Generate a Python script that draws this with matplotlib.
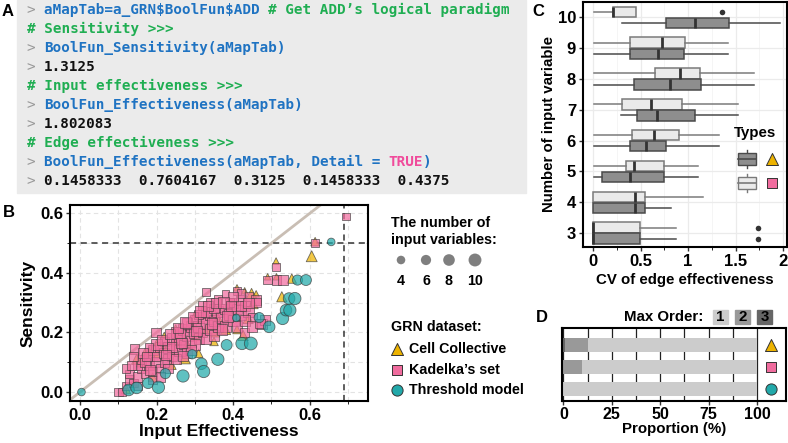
import numpy as np
import matplotlib.pyplot as plt

W, H = 788, 443
fig = plt.figure(figsize=(W / 100, H / 100), dpi=100)

# ---------------- data ----------------
# panel A: console lines (segments of text, colour key)
code_lines = [
    [("> ", "p"), ("aMapTab=a_GRN$BoolFun$ADD ", "b"), ("# Get ADD\u2019s logical paradigm", "g")],
    [("# Sensitivity >>>", "g")],
    [("> ", "p"), ("BoolFun_Sensitivity(aMapTab)", "b")],
    [("> ", "p"), ("1.3125", "k")],
    [("# Input effectiveness >>>", "g")],
    [("> ", "p"), ("BoolFun_Effectiveness(aMapTab)", "b")],
    [("> ", "p"), ("1.802083", "k")],
    [("# Edge effectiveness >>>", "g")],
    [("> ", "p"), ("BoolFun_Effectiveness(aMapTab, Detail = ", "b"), ("TRUE", "t"), (")", "b")],
    [("> ", "p"), ("0.1458333  0.7604167  0.3125  0.1458333  0.4375", "k")],
]

# panel B: input effectiveness vs sensitivity, marker size = number of inputs
cc_x = [0.120, 0.140, 0.148, 0.160, 0.170, 0.180, 0.190, 0.200, 0.220, 0.240, 0.250, 0.274,
        0.280, 0.300, 0.310, 0.330, 0.352, 0.350, 0.360, 0.380, 0.390, 0.410, 0.410, 0.426,
        0.430, 0.439, 0.448, 0.452, 0.460, 0.490, 0.512, 0.513, 0.527, 0.553, 0.605, 0.614,
        0.250, 0.300, 0.350, 0.220, 0.200]
cc_y = [0.010, 0.030, 0.110, 0.100, 0.130, 0.135, 0.050, 0.130, 0.150, 0.090, 0.170, 0.113,
        0.160, 0.190, 0.130, 0.210, 0.202, 0.170, 0.250, 0.210, 0.280, 0.210, 0.350, 0.190,
        0.340, 0.247, 0.331, 0.297, 0.330, 0.387, 0.440, 0.387, 0.320, 0.381, 0.456, 0.505,
        0.215, 0.260, 0.290, 0.190, 0.165]
cc_n = [5, 4, 6, 5, 6, 6, 4, 5, 6, 4, 5, 7,
        5, 6, 4, 5, 6, 4, 5, 6, 5, 4, 2, 6,
        2, 6, 6, 6, 2, 2, 2, 2, 6, 5, 7, 4,
        2, 2, 2, 2, 2]

kd_x = [0.100, 0.110, 0.120, 0.130, 0.140, 0.130, 0.150, 0.160, 0.150, 0.160, 0.142, 0.170,
        0.180, 0.180, 0.190, 0.190, 0.198, 0.200, 0.200, 0.210, 0.210, 0.220, 0.220, 0.230,
        0.230, 0.240, 0.240, 0.250, 0.250, 0.260, 0.260, 0.270, 0.270, 0.280, 0.280, 0.290,
        0.290, 0.300, 0.300, 0.310, 0.310, 0.320, 0.320, 0.330, 0.330, 0.340, 0.340, 0.350,
        0.350, 0.360, 0.360, 0.370, 0.380, 0.380, 0.390, 0.400, 0.400, 0.410, 0.420, 0.420,
        0.430, 0.440, 0.460, 0.440, 0.450, 0.474, 0.483, 0.410, 0.329, 0.490, 0.513, 0.530,
        0.512, 0.614, 0.695, 0.170, 0.200, 0.220, 0.240, 0.260, 0.280, 0.300, 0.310, 0.330,
        0.350, 0.370, 0.390, 0.410, 0.430, 0.250, 0.290, 0.230, 0.270, 0.190, 0.210, 0.150,
        0.120, 0.140, 0.180, 0.360, 0.380, 0.420, 0.320, 0.340, 0.460, 0.430, 0.450, 0.470,
        0.183, 0.400, 0.420, 0.440, 0.165, 0.215, 0.235, 0.255, 0.275, 0.295, 0.315, 0.335,
        0.355, 0.375, 0.395, 0.225, 0.265, 0.305, 0.345, 0.385, 0.135, 0.175]
kd_y = [0.000, 0.000, 0.020, 0.040, 0.030, 0.060, 0.050, 0.080, 0.090, 0.110, 0.144, 0.060,
        0.090, 0.120, 0.070, 0.140, 0.200, 0.100, 0.120, 0.150, 0.080, 0.130, 0.170, 0.110,
        0.150, 0.180, 0.120, 0.160, 0.200, 0.140, 0.180, 0.210, 0.160, 0.190, 0.130, 0.220,
        0.170, 0.200, 0.240, 0.180, 0.220, 0.250, 0.200, 0.230, 0.180, 0.260, 0.210, 0.240,
        0.190, 0.270, 0.220, 0.250, 0.280, 0.220, 0.260, 0.300, 0.240, 0.280, 0.310, 0.260,
        0.290, 0.320, 0.310, 0.270, 0.250, 0.228, 0.242, 0.340, 0.336, 0.376, 0.376, 0.376,
        0.420, 0.500, 0.589, 0.100, 0.160, 0.100, 0.150, 0.200, 0.230, 0.160, 0.260, 0.270,
        0.280, 0.210, 0.300, 0.220, 0.240, 0.110, 0.140, 0.080, 0.120, 0.040, 0.050, 0.020,
        0.080, 0.120, 0.150, 0.310, 0.330, 0.330, 0.290, 0.300, 0.300, 0.200, 0.220, 0.230,
        0.074, 0.320, 0.290, 0.300, 0.130, 0.175, 0.195, 0.215, 0.235, 0.250, 0.270, 0.290,
        0.300, 0.300, 0.290, 0.125, 0.165, 0.205, 0.230, 0.255, 0.090, 0.120]
kd_n = [4, 3, 4, 5, 4, 4, 5, 4, 5, 5, 5, 4,
        6, 5, 5, 6, 5, 6, 5, 6, 5, 6, 5, 6,
        7, 6, 5, 6, 6, 7, 6, 6, 5, 7, 6, 6,
        6, 7, 6, 6, 7, 6, 5, 7, 6, 6, 7, 6,
        6, 7, 6, 7, 6, 6, 7, 6, 7, 6, 6, 6,
        6, 5, 6, 7, 5, 6, 6, 3, 3, 4, 5, 5,
        3, 3, 3, 5, 6, 5, 6, 7, 6, 6, 5, 6,
        5, 6, 5, 6, 6, 6, 6, 5, 6, 4, 5, 4,
        4, 4, 4, 4, 3, 4, 4, 4, 5, 5, 6, 5,
        5, 6, 6, 6, 6, 6, 7, 6, 7, 6, 7, 6,
        6, 7, 6, 6, 6, 7, 6, 7, 5, 5]

th_x = [0.004, 0.127, 0.148, 0.178, 0.205, 0.223, 0.269, 0.293, 0.317, 0.323, 0.360, 0.383,
        0.408, 0.423, 0.446, 0.468, 0.494, 0.529, 0.538, 0.548, 0.546, 0.561, 0.568, 0.590,
        0.656]
th_y = [0.000, 0.007, 0.014, 0.030, 0.016, 0.062, 0.054, 0.127, 0.095, 0.069, 0.110, 0.158,
        0.249, 0.163, 0.163, 0.250, 0.219, 0.247, 0.275, 0.275, 0.314, 0.314, 0.376, 0.376,
        0.504]
th_n = [3, 8, 8, 7, 9, 6, 9, 5, 8, 9, 9, 7,
        3, 9, 10, 6, 8, 9, 8, 9, 8, 9, 6, 7,
        3]

size_levels = [4, 6, 8, 10]
datasets = ["Cell Collective", "Kadelka\u2019s set", "Threshold model"]

# panel C: boxplot stats of CV of edge effectiveness per number of inputs
c_levels = [3, 4, 5, 6, 7, 8, 9, 10]
kd_whislo = [0.00, 0.00, 0.01, 0.01, 0.01, 0.01, 0.01, 0.01]
kd_q1 = [0.00, 0.00, 0.35, 0.41, 0.30, 0.655, 0.385, 0.215]
kd_med = [0.00, 0.44, 0.43, 0.645, 0.61, 0.915, 0.73, 0.215]
kd_q3 = [0.49, 0.55, 0.745, 0.905, 0.94, 1.12, 0.97, 0.455]
kd_whishi = [0.87, 1.16, 1.10, 1.33, 1.53, 1.69, 1.42, 0.455]
kd_fliers = [[1.73], [], [], [], [], [], [], [1.36]]
cc_whislo = [0.00, 0.00, 0.01, 0.01, 0.29, 0.01, 0.01, 0.305]
cc_q1 = [0.00, 0.00, 0.10, 0.385, 0.465, 0.43, 0.385, 0.765]
cc_med = [0.00, 0.44, 0.39, 0.555, 0.675, 0.805, 0.68, 1.07]
cc_q3 = [0.49, 0.55, 0.745, 0.765, 1.07, 1.14, 0.955, 1.43]
cc_whishi = [0.87, 0.82, 1.10, 1.33, 1.53, 1.69, 1.42, 1.97]
cc_fliers = [[1.73], [], [], [], [], [], [], []]

# panel D: share (%) of max order per dataset (Cell Collective, Kadelka, Threshold)
order3 = [0.8, 0.0, 0.0]
order2 = [11.8, 9.5, 0.0]
order1 = [87.4, 90.5, 100.0]

# ---------------- style ----------------
GOLD, PINK, TEAL = '#EDB300', '#F06C9E', '#22A9AA'
MARK = ['^', 's', 'o']
COLS = [GOLD, PINK, TEAL]
SANS = ['Liberation Sans', 'DejaVu Sans']
MONO = 'DejaVu Sans Mono'


def axes_px(l, t, r, b):
    return fig.add_axes([l / W, 1 - b / H, (r - l) / W, (b - t) / H])


def msize(n):
    return 8.0 * np.asarray(n) + 6.0


ov = fig.add_axes([0, 0, 1, 1])
ov.set_xlim(0, W)
ov.set_ylim(H, 0)
ov.axis('off')
ov.set_zorder(10)

# ---------------- panel A ----------------
ov.add_patch(plt.Rectangle((17, 0), 509, 193, color='#EBEBEB', zorder=0))
code_cols = {'p': '#9A9A9A', 'b': '#1F73C2', 'g': '#1FAE52', 'k': '#111111', 't': '#F04B9B'}
fs = 10.3
cw = 0.60205 * fs * 100 / 72
for i, segs in enumerate(code_lines):
    y = 10 + i * 19.0
    x = 27
    for txt, key in segs:
        ov.text(x, y, txt, family=MONO, size=fs, color=code_cols[key],
                weight='normal' if key == 'p' else 'bold', va='center', ha='left',
                parse_math=False)
        x += len(txt) * cw

for lab, (x, y) in zip("ABCD", [(8, 11), (9, 212), (538, 11), (542, 317)]):
    ov.text(x, y, lab, family=SANS, weight='bold', size=12, ha='center', va='center')

# ---------------- panel B ----------------
axB = axes_px(70, 205, 368, 401)
axB.set_xlim(-0.026, 0.752)
axB.set_ylim(-0.03, 0.628)
axB.set_xticks(np.arange(0, 0.75, 0.1), minor=True)
axB.set_yticks(np.arange(0, 0.65, 0.1), minor=True)
axB.grid(True, which='both', color='#E3E3E3', ls=(0, (4, 3)), lw=0.8)
axB.set_axisbelow(True)
axB.axline((0, 0), slope=1.0, color='#C9BEB4', lw=2, zorder=1)
axB.axhline(0.5, color='#333333', ls=(0, (4, 3)), lw=1.1, zorder=1)
axB.axvline(0.69, color='#333333', ls=(0, (4, 3)), lw=1.1, zorder=1)
for xs, ys, ns, m, c in [(cc_x, cc_y, cc_n, '^', GOLD), (kd_x, kd_y, kd_n, 's', PINK),
                         (th_x, th_y, th_n, 'o', TEAL)]:
    axB.scatter(xs, ys, s=msize(ns), marker=m, c=c, alpha=0.72,
                edgecolors='#3A3A3A', linewidths=0.6, zorder=3)
axB.set_xticks([0, 0.2, 0.4, 0.6])
axB.set_xticklabels(['0.0', '0.2', '0.4', '0.6'])
axB.set_yticks([0, 0.2, 0.4, 0.6])
axB.set_yticklabels(['0.0', '0.2', '0.4', '0.6'])
for lbl in axB.get_xticklabels() + axB.get_yticklabels():
    lbl.set_family(SANS)
    lbl.set_weight('bold')
    lbl.set_size(12)
axB.tick_params(length=3, width=1, color='#333333', pad=2)
axB.set_xlabel('Input Effectiveness', family=SANS, weight='bold', size=12.5, labelpad=1)
axB.set_ylabel('Sensitivity', family=SANS, weight='bold', size=12.5, labelpad=3)
for sp in axB.spines.values():
    sp.set_linewidth(1.5)

# legend of panel B
LEG = 10.3
ov.text(391, 223, 'The number of', family=SANS, weight='bold', size=LEG, va='center')
ov.text(391, 240, 'input variables:', family=SANS, weight='bold', size=LEG, va='center')
for n, x in zip(size_levels, [401, 426, 449, 475]):
    ov.scatter([x], [260], s=msize(n), c='#7F7F7F', edgecolors='none')
    ov.text(x, 281, str(n), family=SANS, weight='bold', size=LEG, ha='center', va='center')
ov.text(391, 327, 'GRN dataset:', family=SANS, weight='bold', size=LEG, va='center')
for i, (lab, y) in enumerate(zip(datasets, [349, 370, 390])):
    ov.scatter([397], [y], s=[75, 55, 65][i], marker=MARK[i], c=COLS[i],
               edgecolors='#333333', linewidths=0.7)
    ov.text(409, y, lab, family=SANS, weight='bold', size=LEG, va='center')

# ---------------- panel C ----------------
axC = axes_px(583, 2, 787, 247)
axC.set_xlim(-0.105, 2.04)
axC.set_ylim(2.55, 10.5)
axC.set_xticks(np.arange(0, 2.1, 0.25), minor=True)
axC.grid(True, which='major', color='#EBEBEB', lw=0.9)
axC.grid(True, which='minor', axis='x', color='#F4F4F4', lw=0.6)
axC.set_axisbelow(True)


def stats(wl, q1, md, q3, wh, fl):
    return [dict(whislo=a, q1=b, med=c, q3=d, whishi=e, fliers=f)
            for a, b, c, d, e, f in zip(wl, q1, md, q3, wh, fl)]


off = 0.18
for st, pos, fc, ec in [
        (stats(kd_whislo, kd_q1, kd_med, kd_q3, kd_whishi, kd_fliers),
         np.array(c_levels) + off, '#EAEAEA', '#7A7A7A'),
        (stats(cc_whislo, cc_q1, cc_med, cc_q3, cc_whishi, cc_fliers),
         np.array(c_levels) - off, '#8E8E8E', '#4A4A4A')]:
    axC.bxp(st, positions=pos, widths=0.34, orientation='horizontal', patch_artist=True,
            showcaps=False, manage_ticks=False,
            boxprops=dict(facecolor=fc, edgecolor=ec, lw=1.1),
            whiskerprops=dict(color=ec, lw=1.1),
            medianprops=dict(color='#333333', lw=2),
            flierprops=dict(marker='o', markerfacecolor='#333333', markeredgecolor='none',
                            markersize=4))
axC.set_yticks(c_levels)
axC.set_yticklabels([str(v) for v in c_levels])
axC.set_xticks([0, 0.5, 1, 1.5, 2])
axC.set_xticklabels(['0', '0.5', '1', '1.5', '2'])
for lbl in axC.get_xticklabels() + axC.get_yticklabels():
    lbl.set_family(SANS)
    lbl.set_weight('bold')
    lbl.set_size(12)
axC.tick_params(length=3, width=1, color='#333333', pad=2)
axC.set_xlabel('CV of edge effectiveness', family=SANS, weight='bold', size=10.8, labelpad=3)
axC.set_ylabel('Number of input variable', family=SANS, weight='bold', size=10.8, labelpad=1)
for sp in axC.spines.values():
    sp.set_linewidth(1.5)

# legend of panel C
ov.text(755, 133, 'Types', family=SANS, weight='bold', size=10.8, ha='center', va='center')
for y, fc, ec, i in [(159, '#8E8E8E', '#4A4A4A', 0), (183, '#EAEAEA', '#7A7A7A', 1)]:
    ov.plot([747, 747], [y - 9, y + 9], color=ec, lw=1, zorder=1)
    ov.add_patch(plt.Rectangle((738, y - 6), 18, 12, facecolor=fc, edgecolor=ec, lw=1, zorder=2))
    ov.plot([738, 756], [y, y], color=ec, lw=1.2, zorder=3)
    ov.scatter([772], [y], s=[75, 55][i], marker=MARK[i], c=COLS[i],
               edgecolors='#333333', linewidths=0.7, zorder=3)

# ---------------- panel D ----------------
axD = axes_px(562, 328, 786, 401)
rows = np.array([2, 1, 0])
o3 = np.array(order3)
o2 = np.array(order2)
o1 = np.array(order1)
axD.barh(rows, o3, height=0.64, color='#666666', zorder=2)
axD.barh(rows, o2, left=o3, height=0.64, color='#999999', zorder=2)
axD.barh(rows, o1, left=o3 + o2, height=0.64, color='#CCCCCC', zorder=2)
axD.set_xlim(-0.7, 115)
axD.set_ylim(-0.56, 2.76)
axD.set_xticks(np.arange(0, 101, 12.5), minor=True)
axD.grid(True, which='both', axis='x', color='#222222', lw=0.9)
axD.set_axisbelow(True)
for i, r in enumerate(rows):
    axD.scatter([107.4], [r], s=[75, 55, 65][i], marker=MARK[i], c=COLS[i],
                edgecolors='#333333', linewidths=0.7, zorder=3)
axD.set_yticks([])
axD.set_xticks([0, 25, 50, 75, 100])
for lbl in axD.get_xticklabels():
    lbl.set_family(SANS)
    lbl.set_weight('bold')
    lbl.set_size(11.5)
axD.tick_params(axis='x', which='major', length=3, width=1, color='#333333', pad=1)
axD.tick_params(axis='x', which='minor', length=0)
axD.set_xlabel('Proportion (%)', family=SANS, weight='bold', size=10.8, labelpad=0)
for sp in axD.spines.values():
    sp.set_linewidth(1.5)

ov.text(664, 317, 'Max Order:', family=SANS, weight='bold', size=10.8, ha='center', va='center')
for lab, x, c in zip(['1', '2', '3'], [713, 735, 757], ['#CCCCCC', '#999999', '#666666']):
    ov.add_patch(plt.Rectangle((x, 310), 15, 14, color=c))
    ov.text(x + 7.5, 317, lab, family=SANS, weight='bold', size=10.8, ha='center', va='center')

fig.savefig('out.png', dpi=100)
